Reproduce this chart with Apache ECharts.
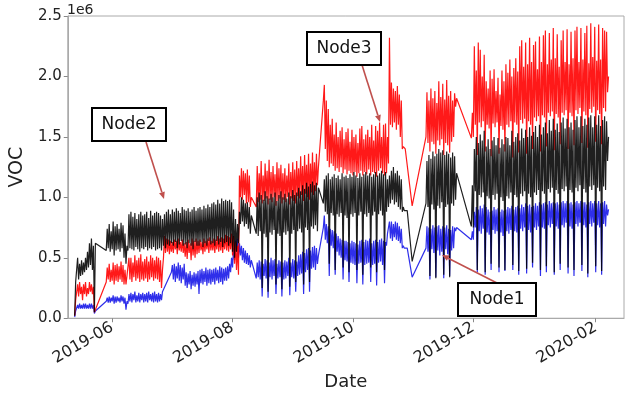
<!DOCTYPE html>
<html>
<head>
<meta charset="utf-8">
<script src="https://cdn.jsdelivr.net/npm/echarts@6/dist/echarts.min.js"></script>
<style>
html, body { margin: 0; padding: 0; background: #fff; }
#chart { width: 632px; height: 396px; }
</style>
</head>
<body>
<div id="chart"></div>
<script>
// readings every 12h (night low, midday high) starting 2019-05-13, in units of 1e4
var startDay = Date.UTC(2019, 4, 13);
var halfDay = 12 * 3600 * 1000;

var node2 = [ // black
  2,30, 30,50, 32,45, 35,48, 36,46, 38,50, 40,55,
  42,62, 44,66, 40,60, 5,62, null,null, null,null, null,null,
  null,null, null,null, 56,74, 58,78, 55,72, 57,80, 52,76,
  56,78, 57,74, 55,79, 58,77, 50,70, 45,60, 56,86,
  58,88, 57,84, 56,87, 59,82, 57,86, 55,88, 58,85,
  57,86, 59,88, 56,83, 58,89, 57,85, 59,87, 56,88,
  57,87, 58,85, 56,82, 60,86, 58,88, 61,90, 60,86,
  62,90, 60,88, 63,91, 58,89, 61,87, 64,92, 60,90,
  61,89, 58,91, 62,88, 60,90, 57,92, 63,89, 60,91,
  60,92, 63,90, 59,93, 62,91, 60,94, 64,92, 61,95,
  62,96, 60,94, 64,98, 61,95, 63,99, 59,97, 62,98,
  63,97, 60,98, 62,96, 55,90, 50,82, 55,78, 62,88,
  78,100, 80,98, 76,95, 78,96, 74,92, 70,85, null,null,
  null,null, 70,100, 68,104, 72,102, 25,98, 70,105, 67,101,
  22,99, 71,103, 69,100, 73,104, 28,97, 70,102, 68,105,
  24,100, 71,103, 69,99, 72,104, 26,101, 70,106, 73,102,
  30,104, 72,108, 74,105, 71,110, 28,107, 75,112, 73,109,
  30,111, 76,113, 74,110, 77,112, 72,108, null,null, null,null,
  95,115, 88,118, 86,120, 45,115, 87,117, 85,119, 40,116,
  86,118, 84,115, 87,120, 42,117, 85,118, 83,116, 38,119,
  86,117, 84,121, 87,118, 40,116, 85,120, 88,117, 36,119,
  86,121, 84,118, 87,120, 42,117, 85,119, 88,121, 38,118,
  86,120, 89,122, 85,119, 40,121, 88,115, 92,118, 95,122,
  98,125, 94,120, 96,122, 92,118, 90,115, 88,92, 89,90,
  88,89, null,null, null,null, 47,47, null,null, null,null, null,null,
  null,null, null,null, null,null, 95,130, 92,135, 35,132, 94,138,
  90,134, 33,136, 93,140, 91,137, 96,139, 36,135, 92,138,
  94,136, 34,133, 95,137, 93,134, 98,120, null,null, null,null,
  null,null, null,null, null,null, null,null, null,null, 76,110, 75,140,
  105,150, 40,145, 102,152, 100,147, 104,155, 38,142, 101,148,
  99,140, 45,147, 102,150, 98,143, 103,149, 42,141, 100,148,
  97,144, 40,150, 101,149, 99,143, 104,155, 44,146, 102,150,
  100,153, 39,147, 103,157, 101,149, 105,156, 41,150, 103,158,
  100,151, 46,154, 104,159, 102,150, 106,160, 40,152, 105,158,
  103,162, 43,153, 107,164, 104,155, 108,165, 38,156, 106,161,
  103,154, 45,162, 107,166, 105,157, 109,165, 42,158, 106,162,
  104,156, 40,164, 108,167, 105,158, 110,167, 44,159, 107,165,
  104,160, 37,166, 109,168, 106,158, 110,167, 43,160, 108,168,
  105,159, 39,164, 109,167, 106,163, 130,150
];

var node3 = [ // red
  2,15, 15,28, 18,30, 20,26, 15,28, 20,30, 18,25,
  20,30, 22,28, 20,26, 5,6, null,null, null,null, null,null,
  null,null, null,null, 30,42, 32,45, 30,40, 31,46, 28,44,
  31,45, 30,43, 32,47, 30,44, 28,40, 28,35, 34,50,
  32,50, 30,46, 34,52, 31,48, 33,50, 30,53, 32,47,
  31,49, 33,51, 30,47, 32,52, 34,50, 31,48, 33,51,
  32,50, 30,48, 25,40, 50,68, 54,66, 55,65, 53,64,
  55,63, 54,65, 57,64, 53,66, 56,63, 55,65, 54,62,
  51,63, 49,65, 54,62, 48,66, 52,64, 50,66, 53,64,
  54,65, 56,63, 53,66, 55,64, 57,66, 54,67, 56,64,
  56,66, 54,65, 57,68, 55,66, 56,67, 54,66, 57,69,
  56,68, 55,67, 57,70, 52,68, 45,63, 40,60, 36,118,
  100,124, 98,122, 102,120, 95,123, 96,118, 92,100, null,null,
  null,null, 92,126, 96,120, 98,130, 95,118, 97,128, 99,122,
  94,131, 98,121, 96,126, 100,119, 93,129, 97,124, 99,127,
  95,120, 98,124, 96,118, 100,128, 94,121, 99,129, 97,123,
  95,130, 101,124, 99,134, 102,126, 97,135, 103,127, 100,136,
  98,128, 104,137, 102,129, 105,136, 110,125, null,null, null,null,
  180,193, 140,180, 130,173, 125,160, 128,165, 126,152, 122,162,
  124,150, 121,155, 125,158, 120,148, 123,154, 119,157, 122,146,
  120,156, 118,150, 121,152, 117,145, 120,157, 122,159, 118,148,
  121,152, 119,156, 123,150, 118,160, 121,147, 120,159, 117,155,
  122,162, 124,150, 120,160, 118,161, 120,150, 128,232, 160,195,
  158,190, 162,188, 156,192, 160,185, 150,180, 140,142, 141,140,
  139,140, null,null, null,null, 93,93, null,null, null,null, null,null,
  null,null, null,null, null,null, 150,187, 145,180, 138,190, 146,182,
  144,188, 136,178, 147,196, 143,183, 148,194, 135,181, 145,197,
  143,184, 137,188, 146,180, 150,186, 175,182, null,null, null,null,
  null,null, null,null, null,null, null,null, null,null, 149,170, 150,225,
  160,205, 135,228, 162,222, 158,200, 163,218, 138,196, 160,190,
  157,205, 134,198, 161,206, 158,188, 162,199, 136,185, 159,205,
  156,196, 138,210, 160,203, 158,214, 163,200, 133,207, 162,215,
  160,204, 137,225, 164,230, 161,208, 165,228, 136,210, 163,232,
  160,212, 140,226, 166,229, 163,206, 167,233, 138,212, 168,234,
  166,238, 142,210, 170,236, 167,214, 171,240, 139,215, 169,235,
  166,208, 144,230, 170,238, 168,212, 172,239, 140,210, 170,237,
  167,215, 143,238, 172,241, 169,212, 174,240, 145,214, 171,236,
  168,242, 141,211, 173,244, 170,216, 175,241, 146,213, 172,243,
  169,214, 144,240, 174,238, 171,237, 187,200
];

var node1 = [ // blue
  1,6, 7,11, 8,12, 8,11, 8,12, 8,12, 8,11,
  8,12, 8,12, 8,11, 4,6, null,null, null,null, null,null,
  null,null, null,null, 14,17, 13,18, 13,17, 14,19, 12,18,
  13,18, 14,17, 13,19, 14,18, 12,17, 7,14, 12,20,
  14,21, 13,20, 15,22, 13,19, 14,21, 13,20, 15,21,
  13,20, 14,21, 13,22, 15,20, 14,21, 13,22, 14,20,
  13,21, 14,20, 15,22, null,null, null,null, null,null, null,null,
  38,44, 32,45, 30,43, 33,46, 31,44, 29,42, 32,45,
  27,38, 25,37, 28,39, 24,36, 27,38, 26,37, 28,39,
  20,40, 29,41, 28,39, 30,42, 27,40, 29,41, 28,40,
  30,41, 28,42, 31,40, 29,43, 30,42, 28,41, 31,42,
  31,43, 33,45, 38,50, 42,58, 48,64, 55,66, 50,62,
  52,60, 48,58, 46,56, 45,54, 44,52, 42,48, null,null,
  null,null, 33,46, 34,48, 32,47, 18,45, 35,49, 33,48,
  17,46, 34,50, 32,48, 35,49, 20,45, 33,48, 34,47,
  18,46, 32,48, 33,47, 35,50, 19,46, 34,49, 33,48,
  22,47, 35,52, 36,53, 37,55, 20,54, 38,57, 40,58,
  22,56, 41,59, 42,60, 40,58, 45,52, null,null, null,null,
  75,85, 65,78, 62,76, 35,74, 60,73, 58,72, 36,70,
  55,68, 52,66, 50,65, 32,64, 48,64, 47,63, 30,62,
  46,64, 45,63, 44,62, 29,61, 45,64, 46,65, 28,63,
  44,65, 45,64, 46,66, 30,62, 44,64, 45,65, 27,63,
  46,65, 47,66, 44,64, 29,63, 60,70, 70,80, 66,80,
  64,78, 67,80, 65,79, 64,76, 62,74, 58,60, 58,59,
  58,58, null,null, null,null, 34,34, null,null, null,null, null,null,
  null,null, null,null, null,null, 58,76, 55,75, 32,74, 57,77,
  54,75, 34,76, 56,77, 52,74, 55,76, 33,75, 57,77,
  53,74, 35,73, 56,76, 58,75, 72,75, null,null, null,null,
  null,null, null,null, null,null, null,null, null,null, 65,72, 65,88,
  75,92, 38,90, 72,93, 70,91, 74,94, 36,92, 71,90,
  69,88, 40,89, 73,92, 70,90, 72,91, 38,88, 71,90,
  68,89, 39,90, 72,92, 70,91, 73,93, 40,90, 72,92,
  71,93, 36,91, 74,94, 72,92, 75,95, 37,93, 73,94,
  71,92, 42,93, 75,95, 73,93, 76,96, 35,94, 75,95,
  74,96, 38,94, 77,97, 75,95, 78,96, 36,95, 76,96,
  74,94, 40,96, 77,97, 75,95, 79,97, 37,95, 76,96,
  74,94, 35,96, 78,97, 76,95, 79,97, 39,96, 77,96,
  75,94, 34,96, 78,97, 76,95, 79,97, 38,95, 77,97,
  75,95, 36,96, 78,97, 76,94, 85,90
];

var tickMonths = ['2019-06', '2019-08', '2019-10', '2019-12', '2020-02'];
var tickVals = tickMonths.map(function (m) {
  return Date.UTC(+m.slice(0, 4), +m.slice(5, 7) - 1, 1);
});

function toSeries(arr) {
  var out = [];
  for (var i = 0; i < arr.length; i++) {
    if (arr[i] == null) continue;
    out.push([startDay + i * halfDay, arr[i] * 1e4]);
  }
  return out;
}

var font = 'DejaVu Sans';
var arrowColor = '#c0504d';

function box(x, y, w, h, label) {
  return [
    {type: 'rect', z: 100, shape: {x: x, y: y, width: w, height: h},
     style: {fill: '#fff', stroke: '#000', lineWidth: 2}},
    {type: 'text', z: 101, x: x + w / 2, y: y + h / 2,
     style: {text: label, fontSize: 17, fontFamily: font, fill: '#111', align: 'center', verticalAlign: 'middle'}}
  ];
}

function arrow(x1, y1, x2, y2) {
  var a = Math.atan2(y2 - y1, x2 - x1), len = 7, w = 3;
  var bx = x2 - len * Math.cos(a), by = y2 - len * Math.sin(a);
  return [
    {type: 'line', z: 100, shape: {x1: x1, y1: y1, x2: bx, y2: by},
     style: {stroke: arrowColor, lineWidth: 1.6}},
    {type: 'polygon', z: 100,
     shape: {points: [[x2, y2], [bx - w * Math.sin(a), by + w * Math.cos(a)], [bx + w * Math.sin(a), by - w * Math.cos(a)]]},
     style: {fill: arrowColor}}
  ];
}

var chart = echarts.init(document.getElementById('chart'));
var option = {
  animation: false,
  backgroundColor: '#fff',
  grid: {left: 66, right: 8, top: 16, bottom: 75, show: true, borderColor: '#aaa', borderWidth: 1},
  xAxis: {
    // timestamps on a plain value axis so the month ticks can be placed exactly
    type: 'value',
    min: Date.UTC(2019, 4, 9, 12),
    max: Date.UTC(2020, 1, 15, 8),
    name: 'Date', nameLocation: 'middle', nameGap: 52,
    nameTextStyle: {fontFamily: font, fontSize: 18, color: '#222'},
    axisLine: {lineStyle: {color: '#aaa'}},
    axisTick: {customValues: tickVals, length: 4, lineStyle: {color: '#888'}},
    axisLabel: {
      customValues: tickVals, rotate: 30, margin: 8,
      fontFamily: font, fontSize: 16, color: '#222',
      formatter: function (v) {
        var d = new Date(v);
        var m = d.getUTCMonth() + 1;
        return d.getUTCFullYear() + '-' + (m < 10 ? '0' + m : m);
      }
    },
    splitLine: {show: false}
  },
  yAxis: {
    type: 'value', min: 0, max: 2.5e6, interval: 5e5,
    name: 'VOC', nameLocation: 'middle', nameGap: 27,
    nameTextStyle: {fontFamily: font, fontSize: 19, color: '#222'},
    axisLine: {show: true, lineStyle: {color: '#aaa'}},
    axisTick: {show: true, length: 4, lineStyle: {color: '#888'}},
    axisLabel: {
      margin: 6, fontFamily: font, fontSize: 15, color: '#222',
      formatter: function (v) { return (v / 1e6).toFixed(1); }
    },
    splitLine: {show: false}
  },
  series: [
    {name: 'Node1', type: 'line', data: toSeries(node1), showSymbol: false, symbol: 'none',
     lineStyle: {color: 'rgba(10,10,230,0.85)', width: 1.2}},
    {name: 'Node3', type: 'line', data: toSeries(node3), showSymbol: false, symbol: 'none',
     lineStyle: {color: 'rgba(255,0,0,0.9)', width: 1.2}},
    {name: 'Node2', type: 'line', data: toSeries(node2), showSymbol: false, symbol: 'none',
     lineStyle: {color: 'rgba(0,0,0,0.88)', width: 1.2}}
  ],
  graphic: [
    {type: 'text', z: 100, x: 67, y: 10,
     style: {text: '1e6', fontSize: 14, fontFamily: font, fill: '#222', align: 'left', verticalAlign: 'middle'}}
  ]
    .concat(arrow(146, 142, 164, 199))
    .concat(arrow(362, 65, 380, 122))
    .concat(arrow(497, 283, 442, 255))
    .concat(box(92, 108, 74, 33, 'Node2'))
    .concat(box(307, 32, 74, 33, 'Node3'))
    .concat(box(458, 283, 78, 33, 'Node1'))
};
chart.setOption(option);
</script>
</body>
</html>
